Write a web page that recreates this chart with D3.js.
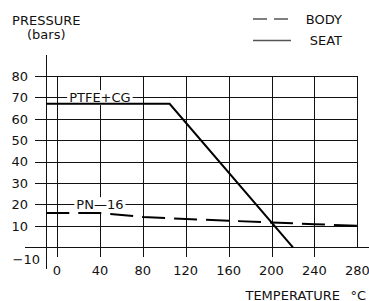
<!DOCTYPE html>
<html>
<head>
<script src="https://d3js.org/d3.v7.min.js"></script>
<style>
  body { margin: 0; background: #fff; }
  svg text { font-family: "DejaVu Sans", sans-serif; font-size: 13px; fill: #111; }
</style>
</head>
<body>
<div id="chart"></div>
<script>
// values
var xTicks = [0, 40, 80, 120, 160, 200, 240, 280];
var yTicks = [10, 20, 30, 40, 50, 60, 70, 80];

var seatTemp = [-10, 105, 220];
var seatPress = [67, 67, 0];

var bodyTemp = [-10, 40, 80, 120, 160, 200, 240, 280];
var bodyPress = [16, 16, 14.2, 13.2, 12.4, 11.6, 10.8, 10];

var curveLabels = ["PTFE+CG", "PN\u201416"];
var curveLabelAt = [[40, 70], [40, 20]];

var legendNames = ["BODY", "SEAT"];

var width = 369, height = 301;

var x = d3.scaleLinear().domain([0, 280]).range([57, 357.3]);
var y = d3.scaleLinear().domain([0, 80]).range([247.3, 76]);

var svg = d3.select("#chart").append("svg")
    .attr("width", width)
    .attr("height", height);

var grid = svg.append("g")
    .attr("stroke", "#111")
    .attr("stroke-width", 1)
    .attr("shape-rendering", "crispEdges");

// horizontal grid lines
grid.selectAll("line.h")
    .data(yTicks)
    .enter().append("line")
    .attr("x1", 35).attr("x2", x(280))
    .attr("y1", function(d) { return Math.round(y(d)) + 0.5; })
    .attr("y2", function(d) { return Math.round(y(d)) + 0.5; });

// zero line runs off to the right
grid.append("line")
    .attr("x1", 25).attr("x2", width)
    .attr("y1", Math.round(y(0)) + 0.5).attr("y2", Math.round(y(0)) + 0.5);

// vertical grid lines
grid.selectAll("line.v")
    .data(xTicks)
    .enter().append("line")
    .attr("x1", function(d) { return Math.round(x(d)) + 0.5; })
    .attr("x2", function(d) { return Math.round(x(d)) + 0.5; })
    .attr("y1", y(80))
    .attr("y2", function(d) { return d == 280 ? y(0) : y(0) + 10; });

// pressure axis at -10 C
grid.append("line")
    .attr("x1", Math.round(x(-10)) + 0.5).attr("x2", Math.round(x(-10)) + 0.5)
    .attr("y1", y(90)).attr("y2", y(-10));

// tick labels
svg.selectAll("text.yt")
    .data(yTicks)
    .enter().append("text")
    .attr("x", 28)
    .attr("y", function(d) { return y(d); })
    .attr("dy", "0.36em")
    .attr("text-anchor", "end")
    .text(function(d) { return d; });

svg.append("text")
    .attr("x", 40)
    .attr("y", y(-10) - 9.5)
    .attr("dy", "0.36em")
    .attr("text-anchor", "end")
    .text("\u221210");

svg.selectAll("text.xt")
    .data(xTicks)
    .enter().append("text")
    .attr("x", function(d) { return x(d); })
    .attr("y", 274.5)
    .attr("text-anchor", "middle")
    .text(function(d) { return d; });

// axis titles
svg.append("text").attr("x", x(-10)).attr("y", 25)
    .attr("text-anchor", "middle").text("PRESSURE");
svg.append("text").attr("x", x(-10)).attr("y", 39)
    .attr("text-anchor", "middle").text("(bars)");
svg.append("text").attr("x", 340).attr("y", 299.5)
    .attr("text-anchor", "end").text("TEMPERATURE");
svg.append("text").attr("x", 366).attr("y", 299.5)
    .attr("text-anchor", "end").text("\u00b0C");

// curve labels sitting on the grid with a white box
curveLabels.forEach(function(t, i) {
    var g = svg.append("g");
    var txt = g.append("text")
        .attr("x", x(curveLabelAt[i][0]))
        .attr("y", y(curveLabelAt[i][1]))
        .attr("dy", "0.36em")
        .attr("text-anchor", "middle")
        .text(t);
    var bb = txt.node().getBBox();
    g.insert("rect", "text")
        .attr("x", bb.x - 2).attr("y", bb.y)
        .attr("width", bb.width + 4).attr("height", bb.height)
        .attr("fill", "#fff");
});

var line = d3.line()
    .x(function(d) { return x(d[0]); })
    .y(function(d) { return y(d[1]); });

svg.append("path")
    .datum(d3.zip(bodyTemp, bodyPress))
    .attr("d", line)
    .attr("fill", "none")
    .attr("stroke", "#000")
    .attr("stroke-width", 2)
    .attr("stroke-dasharray", "23,9");

svg.append("path")
    .datum(d3.zip(seatTemp, seatPress))
    .attr("d", line)
    .attr("fill", "none")
    .attr("stroke", "#000")
    .attr("stroke-width", 2);

// legend
var leg = svg.append("g");
leg.append("line")
    .attr("x1", 253).attr("x2", 288).attr("y1", 19).attr("y2", 19)
    .attr("stroke", "#555").attr("stroke-width", 1.3)
    .attr("stroke-dasharray", "14,7");
leg.append("line")
    .attr("x1", 253).attr("x2", 291).attr("y1", 40.5).attr("y2", 40.5)
    .attr("stroke", "#555").attr("stroke-width", 1.3);
leg.selectAll("text")
    .data(legendNames)
    .enter().append("text")
    .attr("x", 342)
    .attr("y", function(d, i) { return i == 0 ? 19 : 40.5; })
    .attr("dy", "0.36em")
    .attr("text-anchor", "end")
    .text(function(d) { return d; });
</script>
</body>
</html>
